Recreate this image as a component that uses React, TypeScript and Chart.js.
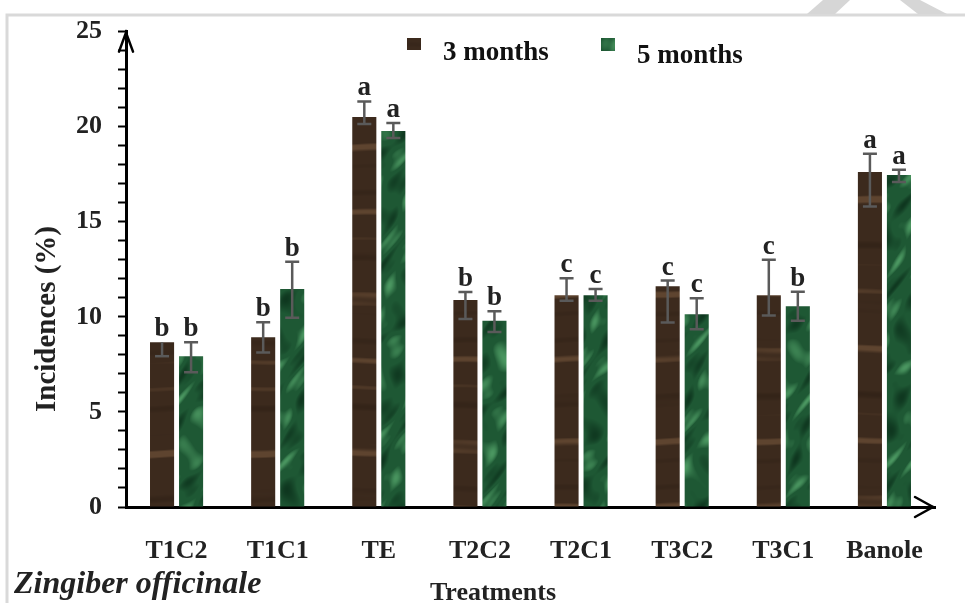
import React, { useEffect, useRef } from "react";
import { Chart, registerables } from "chart.js";

Chart.register(...registerables);

const categories = ["T1C2", "T1C1", "TE", "T2C2", "T2C1", "T3C2", "T3C1", "Banole"];
const seriesNames = ["3 months", "5 months"];
const months3 = [8.67, 8.93, 20.51, 10.88, 11.14, 11.61, 11.14, 17.62];
const months5 = [7.93, 11.46, 19.77, 9.79, 11.14, 10.14, 10.56, 17.46];
const months3ErrHigh = [8.67, 9.72, 21.33, 11.3, 12.03, 11.91, 13.0, 18.58];
const months3ErrLow = [7.93, 8.12, 20.14, 9.88, 10.84, 9.7, 10.07, 15.8];
const months5ErrHigh = [8.67, 12.9, 20.2, 10.3, 11.46, 10.98, 11.32, 17.74];
const months5ErrLow = [7.08, 9.95, 19.4, 9.2, 10.84, 9.35, 9.8, 17.09];
const months3Letters = ["b", "b", "a", "b", "c", "c", "c", "a"];
const months5Letters = ["b", "b", "a", "b", "c", "c", "b", "a"];
const yTickLabels = [0, 5, 10, 15, 20, 25];
const yTitle = "Incidences (%)";
const xTitle = "Treatments";
const plantName = "Zingiber officinale";

const SERIF = "'Liberation Serif', 'Times New Roman', serif";
const TW = 965;
const TH = 603;

function makeWood(): CanvasPattern {
  const c = document.createElement("canvas");
  c.width = TW;
  c.height = TH;
  const g = c.getContext("2d")!;
  const img = g.createImageData(TW, TH);
  for (let y = 0; y < TH; y++) {
    for (let x = 0; x < TW; x++) {
      const yy = y + 1.2 * Math.sin(x * 0.05 + y * 0.01);
      const n =
        Math.sin(yy * 0.21 + x * 0.004) +
        Math.sin(yy * 0.083 + 1 + x * 0.003) +
        0.5 * Math.sin(yy * 0.47 + 2);
      const light = n > 1.3 ? Math.min(1, (n - 1.3) * 1.3) : 0;
      const dark = n < -1.2 ? Math.min(1, (-1.2 - n) * 0.6) : 0;
      const i = (y * TW + x) * 4;
      img.data[i] = 60 + light * 34 - dark * 12;
      img.data[i + 1] = 42 + light * 26 - dark * 9;
      img.data[i + 2] = 29 + light * 18 - dark * 7;
      img.data[i + 3] = 255;
    }
  }
  g.putImageData(img, 0, 0);
  return g.createPattern(c, "no-repeat")!;
}

function makeMarble(): CanvasPattern {
  const c = document.createElement("canvas");
  c.width = TW;
  c.height = TH;
  const g = c.getContext("2d")!;
  const img = g.createImageData(TW, TH);
  for (let y = 0; y < TH; y++) {
    for (let x = 0; x < TW; x++) {
      const wx = x + 7 * Math.sin(y * 0.07 + x * 0.02);
      const wy = y + 7 * Math.sin(x * 0.11 + y * 0.03);
      let n =
        Math.sin(wx * 0.17 + wy * 0.1) +
        0.8 * Math.sin(wx * 0.08 - wy * 0.13 + 1.7) +
        0.45 * Math.sin(wx * 0.37 + wy * 0.26 + 0.4);
      n = n / 2.25;
      const vein = Math.max(0, n - 0.3) * 1.3;
      const shade = Math.max(0, -n - 0.2) * 1.1;
      const i = (y * TW + x) * 4;
      img.data[i] = 30 + vein * 50 - shade * 18;
      img.data[i + 1] = 88 + vein * 70 - shade * 38;
      img.data[i + 2] = 52 + vein * 50 - shade * 24;
      img.data[i + 3] = 255;
    }
  }
  g.putImageData(img, 0, 0);
  return g.createPattern(c, "no-repeat")!;
}

export default function App() {
  const ref = useRef<HTMLCanvasElement | null>(null);

  useEffect(() => {
    document.body.style.margin = "0";
    const canvas = ref.current!;
    const wood = makeWood();
    const marble = makeMarble();

    const overlay = {
      id: "overlay",
      beforeDraw(chart: any) {
        const ctx = chart.ctx;
        ctx.save();
        ctx.fillStyle = "#ffffff";
        ctx.fillRect(0, 0, chart.width, chart.height);
        ctx.strokeStyle = "#d9d9d9";
        ctx.lineWidth = 3;
        ctx.beginPath();
        ctx.moveTo(970, 15);
        ctx.lineTo(7, 15);
        ctx.lineTo(7, 610);
        ctx.stroke();
        ctx.fillStyle = "#d6d6d6";
        ctx.beginPath();
        ctx.moveTo(807, 14);
        ctx.lineTo(823, 0);
        ctx.lineTo(850, 0);
        ctx.lineTo(835, 14);
        ctx.closePath();
        ctx.fill();
        ctx.beginPath();
        ctx.moveTo(900, 0);
        ctx.lineTo(920, 0);
        ctx.lineTo(947, 14);
        ctx.lineTo(918, 14);
        ctx.closePath();
        ctx.fill();
        ctx.restore();
      },
      afterDraw(chart: any) {
        const ctx = chart.ctx;
        const ys = chart.scales.y;
        const area = chart.chartArea;
        ctx.save();
        const highs = [months3ErrHigh, months5ErrHigh];
        const lows = [months3ErrLow, months5ErrLow];
        const letters = [months3Letters, months5Letters];
        const vals = [months3, months5];
        for (let d = 0; d < 2; d++) {
          const meta = chart.getDatasetMeta(d);
          meta.data.forEach((el: any, j: number) => {
            const x = el.x;
            const yH = ys.getPixelForValue(highs[d][j]);
            const yL = ys.getPixelForValue(lows[d][j]);
            const yV = ys.getPixelForValue(vals[d][j]);
            ctx.strokeStyle = "#5a5a5a";
            ctx.lineWidth = 2.5;
            ctx.beginPath();
            ctx.moveTo(x, yH);
            ctx.lineTo(x, yL);
            ctx.stroke();
            ctx.beginPath();
            if (yH < yV - 0.5) {
              ctx.moveTo(x - 7, yH);
              ctx.lineTo(x + 7, yH);
            }
            ctx.moveTo(x - 7, yL);
            ctx.lineTo(x + 7, yL);
            ctx.stroke();
            ctx.fillStyle = "#222222";
            ctx.font = `bold 27px ${SERIF}`;
            ctx.textAlign = "center";
            ctx.textBaseline = "alphabetic";
            ctx.fillText(letters[d][j], x, Math.min(yH, yV) - 6);
          });
        }
        ctx.strokeStyle = "#000";
        ctx.lineWidth = 2.5;
        ctx.lineCap = "round";
        const ax = area.left;
        ctx.beginPath();
        ctx.moveTo(ax - 7, area.top + 20);
        ctx.lineTo(ax, area.top + 1);
        ctx.lineTo(ax + 7, area.top + 20);
        ctx.stroke();
        const by = area.bottom;
        ctx.beginPath();
        ctx.moveTo(915, by - 10);
        ctx.lineTo(933, by);
        ctx.lineTo(915, by + 10);
        ctx.stroke();
        ctx.beginPath();
        ctx.moveTo(area.right - 5, by);
        ctx.lineTo(933, by);
        ctx.stroke();
        ctx.fillStyle = wood;
        ctx.fillRect(407, 38, 14, 12);
        ctx.fillStyle = marble;
        ctx.fillRect(601, 38, 14, 13);
        ctx.fillStyle = "#111";
        ctx.font = `bold 27px ${SERIF}`;
        ctx.textAlign = "left";
        ctx.textBaseline = "alphabetic";
        ctx.fillText(seriesNames[0], 443, 60);
        ctx.fillText(seriesNames[1], 637, 63);
        ctx.font = `bold 26px ${SERIF}`;
        ctx.textAlign = "center";
        ctx.fillStyle = "#222";
        ctx.fillText(xTitle, 493, 600);
        ctx.save();
        ctx.translate(55, 319);
        ctx.rotate(-Math.PI / 2);
        ctx.font = `bold 29px ${SERIF}`;
        ctx.fillText(yTitle, 0, 0);
        ctx.restore();
        ctx.font = `italic bold 32px ${SERIF}`;
        ctx.textAlign = "left";
        ctx.fillStyle = "#222";
        ctx.fillText(plantName, 14, 593);
        ctx.restore();
      },
    };

    const chart = new Chart(canvas, {
      type: "bar",
      data: {
        labels: categories,
        datasets: [
          {
            label: seriesNames[0],
            data: months3,
            backgroundColor: wood as any,
            borderWidth: 0,
            barPercentage: 0.83,
            categoryPercentage: 0.574,
          },
          {
            label: seriesNames[1],
            data: months5,
            backgroundColor: marble as any,
            borderWidth: 0,
            barPercentage: 0.83,
            categoryPercentage: 0.574,
          },
        ],
      },
      options: {
        responsive: false,
        animation: false,
        devicePixelRatio: 1,
        layout: { padding: { left: 0, right: 30, top: 30, bottom: 0 } },
        plugins: { legend: { display: false }, tooltip: { enabled: false } },
        scales: {
          x: {
            grid: { display: false, drawTicks: false },
            border: { display: true, color: "#000", width: 3 },
            ticks: {
              color: "#222",
              font: { family: SERIF, size: 26, weight: "bold" },
              padding: 29,
              maxRotation: 0,
              autoSkip: false,
            },
            afterFit(s: any) {
              s.height = 96;
            },
          },
          y: {
            min: 0,
            max: 25,
            grid: {
              drawOnChartArea: false,
              drawTicks: true,
              tickLength: 8,
              tickWidth: 2,
              tickColor: "#000",
            },
            border: { display: true, color: "#000", width: 3 },
            ticks: {
              stepSize: 1,
              autoSkip: false,
              color: "#222",
              padding: 16,
              font: { family: SERIF, size: 26, weight: "bold" },
              callback: (v: any) => (yTickLabels.includes(Number(v)) ? String(v) : ""),
            },
            afterFit(s: any) {
              s.width = 126;
            },
          },
        },
      } as any,
      plugins: [overlay],
    });
    return () => chart.destroy();
  }, []);

  return (
    <div style={{ width: 965, height: 603 }}>
      <canvas ref={ref} width={965} height={603} style={{ display: "block" }} />
    </div>
  );
}
